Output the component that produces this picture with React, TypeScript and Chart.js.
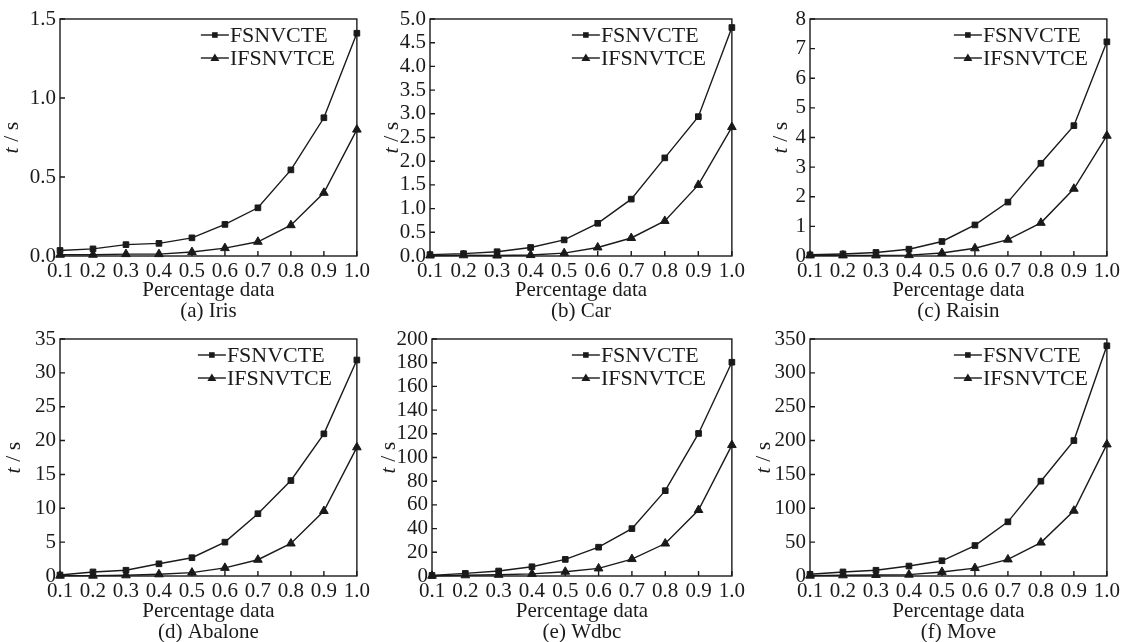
import React, { useEffect, useRef } from 'react';
import { Chart, registerables } from 'chart.js';

Chart.register(...registerables);

// ---------- data ----------
const xLabels = ['0.1', '0.2', '0.3', '0.4', '0.5', '0.6', '0.7', '0.8', '0.9', '1.0'];
const seriesNames = ['FSNVCTE', 'IFSNVTCE'];
const captions = ['(a) Iris', '(b) Car', '(c) Raisin', '(d) Abalone', '(e) Wdbc', '(f) Move'];

const irisFSNVCTE = [0.035, 0.045, 0.072, 0.08, 0.115, 0.2, 0.305, 0.545, 0.875, 1.41];
const irisIFSNVTCE = [0.008, 0.008, 0.012, 0.012, 0.025, 0.05, 0.09, 0.195, 0.4, 0.8];
const carFSNVCTE = [0.03, 0.05, 0.09, 0.18, 0.34, 0.69, 1.2, 2.07, 2.94, 4.82];
const carIFSNVTCE = [0.01, 0.015, 0.01, 0.02, 0.06, 0.18, 0.38, 0.74, 1.5, 2.72];
const raisinFSNVCTE = [0.04, 0.07, 0.12, 0.23, 0.49, 1.05, 1.82, 3.13, 4.4, 7.23];
const raisinIFSNVTCE = [0.02, 0.02, 0.02, 0.03, 0.1, 0.26, 0.55, 1.12, 2.27, 4.06];
const abaloneFSNVCTE = [0.15, 0.6, 0.85, 1.8, 2.7, 5.0, 9.2, 14.1, 21.0, 31.9];
const abaloneIFSNVTCE = [0.05, 0.05, 0.1, 0.25, 0.5, 1.2, 2.4, 4.8, 9.6, 19.0];
const wdbcFSNVCTE = [0.5, 2.2, 4.2, 7.8, 14, 24.3, 40, 72, 120.3, 180.4];
const wdbcIFSNVTCE = [0.2, 0.6, 1, 1.8, 3.6, 6.4, 14.3, 27.4, 55.7, 110.5];
const moveFSNVCTE = [2.5, 6, 8.5, 14.7, 22.5, 45, 80, 140, 200, 340];
const moveIFSNVTCE = [0.5, 1, 1.5, 2, 6, 11.7, 24.5, 49.4, 96.4, 194.3];

const panelSeries = [
  [irisFSNVCTE, irisIFSNVTCE],
  [carFSNVCTE, carIFSNVTCE],
  [raisinFSNVCTE, raisinIFSNVTCE],
  [abaloneFSNVCTE, abaloneIFSNVTCE],
  [wdbcFSNVCTE, wdbcIFSNVTCE],
  [moveFSNVCTE, moveIFSNVTCE],
];

const yMax = [1.5, 5, 8, 35, 200, 350];
const yStep = [0.5, 0.5, 1, 5, 20, 50];
const yDecimals = [1, 1, 0, 0, 0, 0];

// ---------- layout / style ----------
const FONT = '"Liberation Serif", "Times New Roman", serif';
const INK = '#1a1a1a';
const PW = 375;
const PH = 321;
const FS = 21;

const LAYOUT = [
  { left: 60, right: 363, top: 19, bottom: 256, titleX: 12, legendOff: 127 },
  { left: 55, right: 358, top: 19, bottom: 256, titleX: 17, legendOff: 131 },
  { left: 60, right: 360, top: 19, bottom: 256, titleX: 31, legendOff: 124 },
  { left: 60, right: 362, top: 18, bottom: 255, titleX: 14, legendOff: 130 },
  { left: 57, right: 358, top: 18, bottom: 255, titleX: 14, legendOff: 131 },
  { left: 60, right: 360, top: 18, bottom: 255, titleX: 14, legendOff: 124 },
];

const decorPlugin = {
  id: 'decor',
  afterDraw(chart: any, _args: any, opts: any) {
    const { ctx, chartArea: a, scales } = chart;
    ctx.save();
    // frame
    ctx.strokeStyle = INK;
    ctx.lineWidth = 1.4;
    ctx.strokeRect(a.left, a.top, a.right - a.left, a.bottom - a.top);
    // inner ticks
    const tl = 5;
    ctx.beginPath();
    scales.x.ticks.forEach((_t: any, i: number) => {
      const px = scales.x.getPixelForTick(i);
      ctx.moveTo(px, a.bottom);
      ctx.lineTo(px, a.bottom - tl);
    });
    scales.y.ticks.forEach((_t: any, i: number) => {
      const py = scales.y.getPixelForTick(i);
      ctx.moveTo(a.left, py);
      ctx.lineTo(a.left + tl, py);
    });
    ctx.stroke();

    // legend
    const tx = a.right - opts.legendOff;
    chart.data.datasets.forEach((ds: any, i: number) => {
      const y = a.top + 16 + i * 23;
      ctx.strokeStyle = INK;
      ctx.fillStyle = INK;
      ctx.lineWidth = 1.4;
      ctx.beginPath();
      ctx.moveTo(tx - 29, y);
      ctx.lineTo(tx - 1, y);
      ctx.stroke();
      const mx = tx - 15;
      ctx.beginPath();
      if (ds.pointStyle === 'rect') {
        ctx.rect(mx - 2.8, y - 2.8, 5.6, 5.6);
      } else {
        ctx.moveTo(mx, y - 4.5);
        ctx.lineTo(mx + 4.5, y + 3);
        ctx.lineTo(mx - 4.5, y + 3);
        ctx.closePath();
      }
      ctx.fill();
      ctx.font = `22px ${FONT}`;
      ctx.textAlign = 'left';
      ctx.textBaseline = 'middle';
      ctx.fillText(ds.label, tx, y + 1);
    });

    // y title: italic t, upright " / s"
    ctx.save();
    ctx.translate(opts.titleX, (a.top + a.bottom) / 2);
    ctx.rotate(-Math.PI / 2);
    ctx.textBaseline = 'middle';
    ctx.textAlign = 'left';
    ctx.fillStyle = INK;
    const fIt = `italic 22px ${FONT}`;
    const fUp = `22px ${FONT}`;
    ctx.font = fIt;
    const w1 = ctx.measureText('t').width;
    ctx.font = fUp;
    const w2 = ctx.measureText(' / s').width;
    const x0 = -(w1 + w2) / 2;
    ctx.font = fIt;
    ctx.fillText('t', x0, 0);
    ctx.font = fUp;
    ctx.fillText(' / s', x0 + w1, 0);
    ctx.restore();

    // caption
    ctx.font = `${FS}px ${FONT}`;
    ctx.textAlign = 'center';
    ctx.textBaseline = 'middle';
    ctx.fillStyle = INK;
    ctx.fillText(opts.caption, (a.left + a.right) / 2, opts.captionY);
    ctx.restore();
  },
};

function Panel({ index }: { index: number }) {
  const ref = useRef<HTMLCanvasElement | null>(null);
  useEffect(() => {
    const lay = LAYOUT[index];
    const [f, g] = panelSeries[index];
    const dec = yDecimals[index];
    const chart = new Chart(ref.current as HTMLCanvasElement, {
      type: 'line',
      data: {
        labels: xLabels,
        datasets: [
          {
            label: seriesNames[0],
            data: f,
            borderColor: INK,
            backgroundColor: INK,
            borderWidth: 1.4,
            pointStyle: 'rect',
            pointRadius: 4,
            pointBorderWidth: 1,
            pointBackgroundColor: INK,
            pointBorderColor: INK,
            tension: 0,
            clip: false as any,
          },
          {
            label: seriesNames[1],
            data: g,
            borderColor: INK,
            backgroundColor: INK,
            borderWidth: 1.4,
            pointStyle: 'triangle',
            pointRadius: 5,
            pointBorderWidth: 1,
            pointBackgroundColor: INK,
            pointBorderColor: INK,
            tension: 0,
            clip: false as any,
          },
        ],
      },
      options: {
        responsive: false,
        animation: false,
        devicePixelRatio: 1,
        layout: { padding: { top: lay.top, right: PW - lay.right, left: 0, bottom: 0 } },
        plugins: {
          legend: { display: false },
          tooltip: { enabled: false },
          decor: { caption: captions[index], captionY: 311, titleX: lay.titleX, legendOff: lay.legendOff },
        } as any,
        scales: {
          x: {
            type: 'category',
            offset: false,
            grid: { display: false, drawTicks: false },
            border: { display: false },
            ticks: {
              autoSkip: false,
              maxRotation: 0,
              padding: 5,
              color: INK,
              font: { family: FONT, size: FS, lineHeight: 1 },
            },
            title: {
              display: true,
              text: 'Percentage data',
              color: INK,
              font: { family: FONT, size: FS, lineHeight: 1 },
              padding: { top: 0, bottom: 20 },
            },
            afterFit: (scale: any) => {
              scale.height = PH - lay.bottom;
            },
          },
          y: {
            min: 0,
            max: yMax[index],
            grid: { display: false, drawTicks: false },
            border: { display: false },
            ticks: {
              autoSkip: false,
              padding: 4,
              color: INK,
              font: { family: FONT, size: FS, lineHeight: 1 },
              callback: (v: any) => Number(v).toFixed(dec),
            },
            afterBuildTicks: (scale: any) => {
              const ticks: any[] = [];
              const n = Math.round(yMax[index] / yStep[index]);
              for (let k = 0; k <= n; k++) ticks.push({ value: +(k * yStep[index]).toFixed(4) });
              scale.ticks = ticks;
            },
            afterFit: (scale: any) => {
              scale.width = lay.left;
            },
          },
        },
      },
      plugins: [decorPlugin],
    });
    return () => chart.destroy();
  }, [index]);
  const col = index % 3;
  const row = Math.floor(index / 3);
  return (
    <canvas
      ref={ref}
      width={PW}
      height={PH}
      style={{ position: 'absolute', left: col * PW, top: row * PH, width: PW, height: PH }}
    />
  );
}

export default function App() {
  return (
    <div style={{ position: 'absolute', left: 0, top: 0, width: 1125, height: 642, background: '#fff', overflow: 'hidden' }}>
      {[0, 1, 2, 3, 4, 5].map((i) => (
        <Panel key={i} index={i} />
      ))}
    </div>
  );
}
